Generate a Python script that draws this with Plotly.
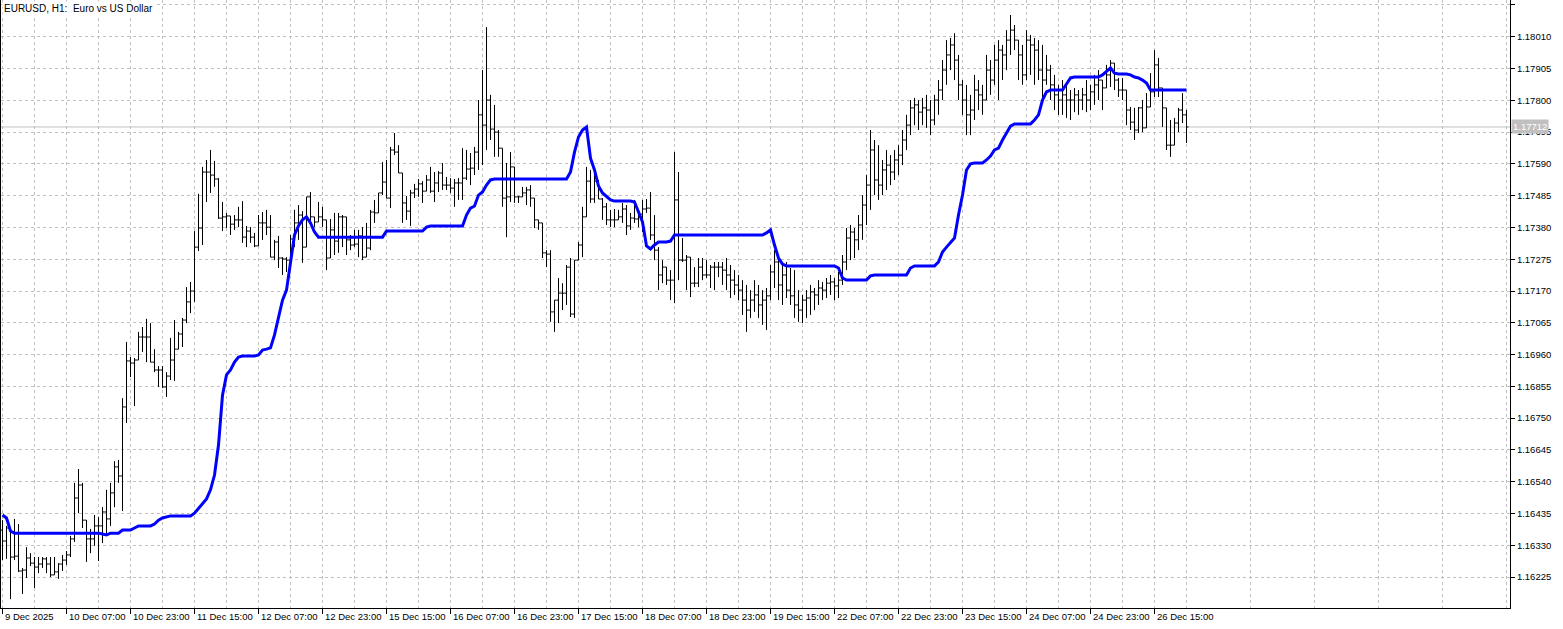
import plotly.graph_objects as go

# ---- data (EURUSD H1 bars, 9 Dec 15:00 .. 26 Dec) ----
highs = [
    1.16413, 1.16394, 1.16387, 1.16417, 1.16400, 1.16255, 1.16324, 1.16304, 1.16291, 1.16291,
    1.16291, 1.16291, 1.16291, 1.16291, 1.16271, 1.16298, 1.16311, 1.16361, 1.16536, 1.16582,
    1.16536, 1.16400, 1.16384, 1.16430, 1.16423, 1.16456, 1.16513, 1.16536, 1.16608, 1.16612,
    1.16816, 1.17002, 1.16952, 1.16949, 1.17035, 1.17051, 1.17078, 1.17064, 1.16978, 1.16922,
    1.16922, 1.16902, 1.17015, 1.17074, 1.17035, 1.17081, 1.17183, 1.17200, 1.17368, 1.17491,
    1.17580, 1.17603, 1.17636, 1.17600, 1.17543, 1.17464, 1.17428, 1.17398, 1.17421, 1.17448,
    1.17467, 1.17385, 1.17381, 1.17362, 1.17421, 1.17431, 1.17438, 1.17421, 1.17339, 1.17352,
    1.17282, 1.17282, 1.17355, 1.17438, 1.17454, 1.17434, 1.17481, 1.17497, 1.17415, 1.17464,
    1.17448, 1.17375, 1.17408, 1.17428, 1.17428, 1.17421, 1.17415, 1.17355, 1.17372, 1.17372,
    1.17381, 1.17395, 1.17438, 1.17471, 1.17494, 1.17596, 1.17603, 1.17646, 1.17692, 1.17652,
    1.17560, 1.17484, 1.17504, 1.17524, 1.17540, 1.17533, 1.17553, 1.17580, 1.17563, 1.17566,
    1.17593, 1.17547, 1.17543, 1.17540, 1.17543, 1.17642, 1.17636, 1.17626, 1.17646, 1.17801,
    1.17900, 1.18042, 1.17818, 1.17785, 1.17702, 1.17629, 1.17593, 1.17629, 1.17514, 1.17484,
    1.17514, 1.17514, 1.17520, 1.17477, 1.17405, 1.17395, 1.17305, 1.17305, 1.17140, 1.17213,
    1.17196, 1.17256, 1.17279, 1.17272, 1.17332, 1.17448, 1.17580, 1.17570, 1.17570, 1.17537,
    1.17477, 1.17461, 1.17438, 1.17441, 1.17438, 1.17461, 1.17454, 1.17428, 1.17471, 1.17438,
    1.17471, 1.17474, 1.17497, 1.17421, 1.17315, 1.17272, 1.17249, 1.17239, 1.17629, 1.17563,
    1.17345, 1.17289, 1.17249, 1.17249, 1.17279, 1.17279, 1.17272, 1.17256, 1.17266, 1.17266,
    1.17266, 1.17279, 1.17256, 1.17239, 1.17223, 1.17206, 1.17190, 1.17173, 1.17206, 1.17190,
    1.17173, 1.17180, 1.17256, 1.17305, 1.17289, 1.17256, 1.17266, 1.17246, 1.17239, 1.17173,
    1.17157, 1.17173, 1.17190, 1.17180, 1.17206, 1.17200, 1.17213, 1.17223, 1.17213, 1.17233,
    1.17289, 1.17378, 1.17388, 1.17378, 1.17421, 1.17487, 1.17553, 1.17702, 1.17669, 1.17652,
    1.17603, 1.17636, 1.17619, 1.17636, 1.17652, 1.17702, 1.17752, 1.17801, 1.17808, 1.17801,
    1.17808, 1.17818, 1.17801, 1.17818, 1.17867, 1.17933, 1.17999, 1.18006, 1.18022, 1.17950,
    1.17867, 1.17851, 1.17818, 1.17884, 1.17867, 1.17851, 1.17950, 1.17933, 1.17983, 1.17999,
    1.17983, 1.18032, 1.18082, 1.18049, 1.17999, 1.17983, 1.18032, 1.18016, 1.18006, 1.17999,
    1.17983, 1.17950, 1.17917, 1.17884, 1.17851, 1.17867, 1.17851, 1.17834, 1.17841, 1.17834,
    1.17841, 1.17867, 1.17851, 1.17884, 1.17900, 1.17867, 1.17917, 1.17933, 1.17910, 1.17874,
    1.17874, 1.17801, 1.17778, 1.17775, 1.17778, 1.17801, 1.17824, 1.17890, 1.17966, 1.17940,
    1.17808, 1.17712, 1.17735, 1.17742, 1.17775, 1.17824, 1.17768,
]

lows = [
    1.16281, 1.16285, 1.16152, 1.16281, 1.16242, 1.16169, 1.16222, 1.16261, 1.16189, 1.16238,
    1.16255, 1.16238, 1.16225, 1.16232, 1.16219, 1.16245, 1.16265, 1.16291, 1.16341, 1.16436,
    1.16387, 1.16275, 1.16304, 1.16328, 1.16278, 1.16337, 1.16361, 1.16394, 1.16456, 1.16536,
    1.16443, 1.16734, 1.16886, 1.16790, 1.16949, 1.16969, 1.16935, 1.16935, 1.16902, 1.16853,
    1.16850, 1.16820, 1.16876, 1.16873, 1.16985, 1.16985, 1.17064, 1.17097, 1.17134, 1.17302,
    1.17322, 1.17464, 1.17494, 1.17514, 1.17408, 1.17368, 1.17378, 1.17355, 1.17372, 1.17381,
    1.17329, 1.17315, 1.17329, 1.17315, 1.17339, 1.17339, 1.17355, 1.17282, 1.17272, 1.17246,
    1.17223, 1.17233, 1.17239, 1.17315, 1.17339, 1.17263, 1.17315, 1.17395, 1.17381, 1.17398,
    1.17381, 1.17239, 1.17296, 1.17289, 1.17296, 1.17315, 1.17289, 1.17305, 1.17315, 1.17282,
    1.17272, 1.17296, 1.17305, 1.17395, 1.17448, 1.17487, 1.17477, 1.17444, 1.17619, 1.17560,
    1.17395, 1.17405, 1.17385, 1.17477, 1.17481, 1.17461, 1.17510, 1.17494, 1.17464, 1.17497,
    1.17504, 1.17504, 1.17494, 1.17448, 1.17471, 1.17471, 1.17537, 1.17520, 1.17553, 1.17570,
    1.17586, 1.17636, 1.17669, 1.17613, 1.17613, 1.17448, 1.17348, 1.17464, 1.17461, 1.17461,
    1.17481, 1.17454, 1.17448, 1.17378, 1.17372, 1.17279, 1.17249, 1.17068, 1.17035, 1.17064,
    1.17107, 1.17124, 1.17084, 1.17081, 1.17272, 1.17282, 1.17415, 1.17461, 1.17461, 1.17474,
    1.17405, 1.17388, 1.17381, 1.17381, 1.17405, 1.17395, 1.17355, 1.17372, 1.17395, 1.17381,
    1.17365, 1.17428, 1.17339, 1.17272, 1.17173, 1.17196, 1.17190, 1.17140, 1.17130, 1.17206,
    1.17266, 1.17173, 1.17150, 1.17183, 1.17183, 1.17206, 1.17213, 1.17180, 1.17173, 1.17216,
    1.17190, 1.17173, 1.17147, 1.17157, 1.17140, 1.17091, 1.17035, 1.17081, 1.17101, 1.17081,
    1.17058, 1.17041, 1.17140, 1.17180, 1.17140, 1.17124, 1.17147, 1.17124, 1.17081, 1.17068,
    1.17064, 1.17081, 1.17091, 1.17107, 1.17124, 1.17140, 1.17147, 1.17157, 1.17140, 1.17147,
    1.17190, 1.17239, 1.17272, 1.17279, 1.17305, 1.17339, 1.17388, 1.17438, 1.17487, 1.17471,
    1.17487, 1.17504, 1.17520, 1.17537, 1.17553, 1.17586, 1.17636, 1.17685, 1.17718, 1.17702,
    1.17718, 1.17709, 1.17685, 1.17718, 1.17752, 1.17801, 1.17851, 1.17900, 1.17867, 1.17801,
    1.17752, 1.17685, 1.17685, 1.17735, 1.17768, 1.17752, 1.17801, 1.17818, 1.17851, 1.17801,
    1.17867, 1.17900, 1.17950, 1.17966, 1.17867, 1.17851, 1.17867, 1.17884, 1.17851, 1.17867,
    1.17801, 1.17851, 1.17801, 1.17768, 1.17752, 1.17752, 1.17742, 1.17735, 1.17761, 1.17752,
    1.17768, 1.17761, 1.17768, 1.17785, 1.17801, 1.17768, 1.17841, 1.17844, 1.17834, 1.17811,
    1.17801, 1.17718, 1.17702, 1.17669, 1.17692, 1.17695, 1.17728, 1.17811, 1.17811, 1.17811,
    1.17712, 1.17636, 1.17613, 1.17685, 1.17695, 1.17725, 1.17659,
]

closes = [
    1.16344, 1.16387, 1.16291, 1.16294, 1.16245, 1.16248, 1.16288, 1.16271, 1.16258, 1.16268,
    1.16285, 1.16268, 1.16232, 1.16242, 1.16268, 1.16281, 1.16298, 1.16351, 1.16486, 1.16529,
    1.16413, 1.16351, 1.16351, 1.16394, 1.16394, 1.16440, 1.16417, 1.16503, 1.16589, 1.16559,
    1.16787, 1.16939, 1.16932, 1.16942, 1.17018, 1.17018, 1.17018, 1.16935, 1.16909, 1.16909,
    1.16853, 1.16889, 1.16942, 1.16978, 1.17028, 1.17074, 1.17134, 1.17170, 1.17315, 1.17378,
    1.17563, 1.17563, 1.17553, 1.17540, 1.17411, 1.17415, 1.17418, 1.17391, 1.17405, 1.17405,
    1.17348, 1.17368, 1.17348, 1.17319, 1.17395, 1.17395, 1.17381, 1.17282, 1.17332, 1.17279,
    1.17276, 1.17272, 1.17342, 1.17395, 1.17421, 1.17315, 1.17481, 1.17415, 1.17398, 1.17415,
    1.17405, 1.17279, 1.17372, 1.17335, 1.17415, 1.17415, 1.17339, 1.17322, 1.17325, 1.17352,
    1.17282, 1.17312, 1.17431, 1.17428, 1.17494, 1.17530, 1.17477, 1.17636, 1.17629, 1.17560,
    1.17461, 1.17434, 1.17494, 1.17507, 1.17524, 1.17500, 1.17537, 1.17500, 1.17527, 1.17560,
    1.17520, 1.17520, 1.17510, 1.17527, 1.17527, 1.17543, 1.17573, 1.17576, 1.17629, 1.17752,
    1.17718, 1.17801, 1.17705, 1.17695, 1.17642, 1.17477, 1.17481, 1.17580, 1.17481, 1.17481,
    1.17494, 1.17504, 1.17477, 1.17405, 1.17395, 1.17296, 1.17292, 1.17101, 1.17140, 1.17163,
    1.17163, 1.17249, 1.17094, 1.17272, 1.17322, 1.17415, 1.17533, 1.17474, 1.17533, 1.17474,
    1.17448, 1.17405, 1.17405, 1.17405, 1.17415, 1.17441, 1.17385, 1.17411, 1.17408, 1.17424,
    1.17441, 1.17444, 1.17355, 1.17305, 1.17223, 1.17249, 1.17206, 1.17206, 1.17471, 1.17272,
    1.17272, 1.17282, 1.17196, 1.17196, 1.17249, 1.17223, 1.17223, 1.17249, 1.17249, 1.17249,
    1.17239, 1.17223, 1.17206, 1.17190, 1.17173, 1.17140, 1.17107, 1.17140, 1.17157, 1.17124,
    1.17140, 1.17154, 1.17233, 1.17266, 1.17190, 1.17223, 1.17173, 1.17154, 1.17124, 1.17107,
    1.17140, 1.17147, 1.17167, 1.17157, 1.17180, 1.17173, 1.17196, 1.17200, 1.17187, 1.17206,
    1.17266, 1.17345, 1.17365, 1.17339, 1.17388, 1.17454, 1.17520, 1.17636, 1.17537, 1.17520,
    1.17570, 1.17586, 1.17563, 1.17603, 1.17619, 1.17669, 1.17718, 1.17775, 1.17785, 1.17761,
    1.17775, 1.17768, 1.17735, 1.17801, 1.17834, 1.17900, 1.17950, 1.17983, 1.17933, 1.17851,
    1.17801, 1.17752, 1.17768, 1.17834, 1.17818, 1.17801, 1.17900, 1.17867, 1.17933, 1.17966,
    1.17950, 1.17999, 1.18032, 1.17999, 1.17950, 1.17884, 1.17999, 1.17983, 1.17966, 1.17900,
    1.17867, 1.17900, 1.17851, 1.17818, 1.17801, 1.17818, 1.17801, 1.17801, 1.17818, 1.17801,
    1.17818, 1.17801, 1.17828, 1.17851, 1.17867, 1.17841, 1.17884, 1.17923, 1.17867, 1.17834,
    1.17834, 1.17768, 1.17728, 1.17702, 1.17775, 1.17709, 1.17778, 1.17828, 1.17917, 1.17841,
    1.17775, 1.17652, 1.17652, 1.17725, 1.17768, 1.17752, 1.17712,
]

first_open = 1.16380

# blue indicator line
signal = [
    1.16430, 1.16420, 1.16377, 1.16370, 1.16370, 1.16370, 1.16370, 1.16370, 1.16370, 1.16370,
    1.16370, 1.16370, 1.16370, 1.16370, 1.16370, 1.16370, 1.16370, 1.16370, 1.16370, 1.16370,
    1.16370, 1.16370, 1.16370, 1.16370, 1.16370, 1.16367, 1.16364, 1.16370, 1.16370, 1.16370,
    1.16380, 1.16380, 1.16380, 1.16387, 1.16394, 1.16394, 1.16394, 1.16394, 1.16400, 1.16413,
    1.16420, 1.16423, 1.16427, 1.16427, 1.16427, 1.16427, 1.16427, 1.16427, 1.16436, 1.16453,
    1.16466, 1.16483, 1.16513, 1.16562, 1.16661, 1.16826, 1.16893, 1.16909, 1.16935, 1.16952,
    1.16955, 1.16955, 1.16955, 1.16955, 1.16959, 1.16975, 1.16978, 1.16982, 1.17025, 1.17081,
    1.17140, 1.17173, 1.17272, 1.17355, 1.17385, 1.17405, 1.17415, 1.17395, 1.17365, 1.17348,
    1.17348, 1.17348, 1.17348, 1.17348, 1.17348, 1.17348, 1.17348, 1.17348, 1.17348, 1.17348,
    1.17348, 1.17348, 1.17348, 1.17348, 1.17348, 1.17348, 1.17368, 1.17368, 1.17368, 1.17368,
    1.17368, 1.17368, 1.17368, 1.17368, 1.17368, 1.17368, 1.17381, 1.17385, 1.17385, 1.17385,
    1.17385, 1.17385, 1.17385, 1.17385, 1.17385, 1.17385, 1.17421, 1.17444, 1.17451, 1.17487,
    1.17497, 1.17520, 1.17537, 1.17540, 1.17540, 1.17540, 1.17540, 1.17540, 1.17540, 1.17540,
    1.17540, 1.17540, 1.17540, 1.17540, 1.17540, 1.17540, 1.17540, 1.17540, 1.17540, 1.17540,
    1.17540, 1.17540, 1.17563, 1.17629, 1.17679, 1.17702, 1.17712, 1.17609, 1.17570, 1.17517,
    1.17494, 1.17484, 1.17471, 1.17467, 1.17467, 1.17467, 1.17467, 1.17467, 1.17464, 1.17428,
    1.17398, 1.17319, 1.17309, 1.17322, 1.17332, 1.17332, 1.17332, 1.17335, 1.17355, 1.17355,
    1.17355, 1.17355, 1.17355, 1.17355, 1.17355, 1.17355, 1.17355, 1.17355, 1.17355, 1.17355,
    1.17355, 1.17355, 1.17355, 1.17355, 1.17355, 1.17355, 1.17355, 1.17355, 1.17355, 1.17355,
    1.17355, 1.17362, 1.17372, 1.17322, 1.17279, 1.17259, 1.17253, 1.17253, 1.17253, 1.17253,
    1.17253, 1.17253, 1.17253, 1.17253, 1.17253, 1.17253, 1.17253, 1.17253, 1.17253, 1.17246,
    1.17213, 1.17206, 1.17206, 1.17206, 1.17206, 1.17206, 1.17206, 1.17220, 1.17223, 1.17223,
    1.17223, 1.17223, 1.17223, 1.17223, 1.17223, 1.17223, 1.17223, 1.17246, 1.17253, 1.17253,
    1.17253, 1.17253, 1.17253, 1.17253, 1.17266, 1.17299, 1.17315, 1.17329, 1.17345, 1.17421,
    1.17487, 1.17570, 1.17590, 1.17593, 1.17593, 1.17593, 1.17603, 1.17616, 1.17636, 1.17642,
    1.17669, 1.17692, 1.17715, 1.17722, 1.17722, 1.17722, 1.17722, 1.17722, 1.17735, 1.17752,
    1.17801, 1.17828, 1.17834, 1.17834, 1.17834, 1.17834, 1.17854, 1.17874, 1.17877, 1.17877,
    1.17877, 1.17877, 1.17877, 1.17877, 1.17877, 1.17884, 1.17897, 1.17907, 1.17890, 1.17887,
    1.17887, 1.17887, 1.17884, 1.17877, 1.17874, 1.17867, 1.17857, 1.17834, 1.17834, 1.17834,
    1.17834, 1.17834, 1.17834, 1.17834, 1.17834, 1.17834, 1.17834,
]

time_label_bars = [0, 16, 32, 48, 64, 80, 96, 112, 128, 144, 160, 176, 192, 208, 224, 240, 256, 272, 288]
time_labels = ["9 Dec 2025", "10 Dec 07:00", "10 Dec 23:00", "11 Dec 15:00", "12 Dec 07:00",
               "12 Dec 23:00", "15 Dec 15:00", "16 Dec 07:00", "16 Dec 23:00", "17 Dec 15:00",
               "18 Dec 07:00", "18 Dec 23:00", "19 Dec 15:00", "22 Dec 07:00", "22 Dec 23:00",
               "23 Dec 15:00", "24 Dec 07:00", "24 Dec 23:00", "26 Dec 15:00"]
grid_minor_bars = [8, 24, 40, 56, 72, 88, 104, 120, 136, 152, 168, 184, 200, 216, 232, 248, 264, 280, 296,
                   312, 328, 344, 360, 376]
price_ticks = [1.16225, 1.16330, 1.16435, 1.16540, 1.16645, 1.16750, 1.16855, 1.16960, 1.17065,
               1.17170, 1.17275, 1.17380, 1.17485, 1.17590, 1.17695, 1.17800, 1.17905, 1.18010, 1.18115]
last_price = 1.17712
title_text = "EURUSD, H1:\u00a0 Euro vs US Dollar"

n = len(closes)
assert len(highs) == n and len(lows) == n and len(signal) == n, (len(highs), len(lows), n, len(signal))
x = list(range(n))
opens = [first_open] + closes[:-1]
hi = [max(h, o, c) for h, o, c in zip(highs, opens, closes)]
lo = [min(l, o, c) for l, o, c in zip(lows, opens, closes)]

FONT = "Liberation Sans, Arial, sans-serif"
GRID = "#C0C0C0"

fig = go.Figure()
fig.add_trace(go.Ohlc(
    x=x, open=opens, high=hi, low=lo, close=closes,
    increasing=dict(line=dict(color="black", width=1)),
    decreasing=dict(line=dict(color="black", width=1)),
    tickwidth=0.5, hoverinfo="skip", showlegend=False,
))
fig.add_trace(go.Scatter(
    x=x, y=signal, mode="lines",
    line=dict(color="#0000FF", width=3),
    hoverinfo="skip", showlegend=False,
))

fig.add_shape(type="line", xref="paper", x0=0, x1=1, yref="y", y0=last_price, y1=last_price,
              line=dict(color="#C0C0C0", width=1), layer="between")

annotations = []
for b, t in zip(time_label_bars, time_labels):
    annotations.append(dict(x=b, y=0, xref="x", yref="paper", text=t, showarrow=False,
                            xanchor="left", yanchor="top", yshift=-1,
                            font=dict(family=FONT, size=9.5, color="black")))
annotations.append(dict(x=1, y=last_price, xref="paper", yref="y", text=f"{last_price:.5f}",
                        showarrow=False, xanchor="left", yanchor="middle", xshift=1,
                        bgcolor="#C0C0C0", borderpad=1,
                        font=dict(family=FONT, size=9.5, color="white")))
annotations.append(dict(x=0, y=1, xref="paper", yref="paper", text=title_text, showarrow=False,
                        xanchor="left", yanchor="top", xshift=1, yshift=-1, bgcolor="white",
                        font=dict(family=FONT, size=10, color="black")))

fig.update_layout(
    width=1563, height=629,
    margin=dict(l=1, r=53, t=0, b=21, autoexpand=False),
    paper_bgcolor="white", plot_bgcolor="white",
    showlegend=False,
    font=dict(family=FONT, size=9.5, color="black"),
    annotations=annotations,
    xaxis=dict(
        range=[-0.375, 376.875],
        rangeslider=dict(visible=False),
        tickmode="array", tickvals=time_label_bars, showticklabels=False,
        ticks="outside", ticklen=5, tickcolor="black", tickwidth=1,
        showgrid=True, gridcolor=GRID, gridwidth=1, griddash="3px,3px",
        minor=dict(tickvals=grid_minor_bars, showgrid=True, gridcolor=GRID, gridwidth=1,
                   griddash="3px,3px", ticks=""),
        showline=True, linecolor="black", linewidth=1,
        zeroline=False, fixedrange=True, automargin=False,
    ),
    yaxis=dict(
        side="right",
        range=[1.161227, 1.181315],
        tickmode="array", tickvals=price_ticks, ticktext=[f"{p:.5f}" for p in price_ticks],
        ticks="outside", ticklen=4, tickcolor="black", tickwidth=1,
        tickfont=dict(family=FONT, size=9.5, color="black"),
        showgrid=True, gridcolor=GRID, gridwidth=1, griddash="3px,3px",
        showline=True, linecolor="black", linewidth=1, mirror=True,
        zeroline=False, fixedrange=True, automargin=False,
    ),
)

fig.write_html(
    "out.html",
    config={"displayModeBar": False},
    post_script="document.body.style.margin='0';document.body.style.padding='0';",
)
